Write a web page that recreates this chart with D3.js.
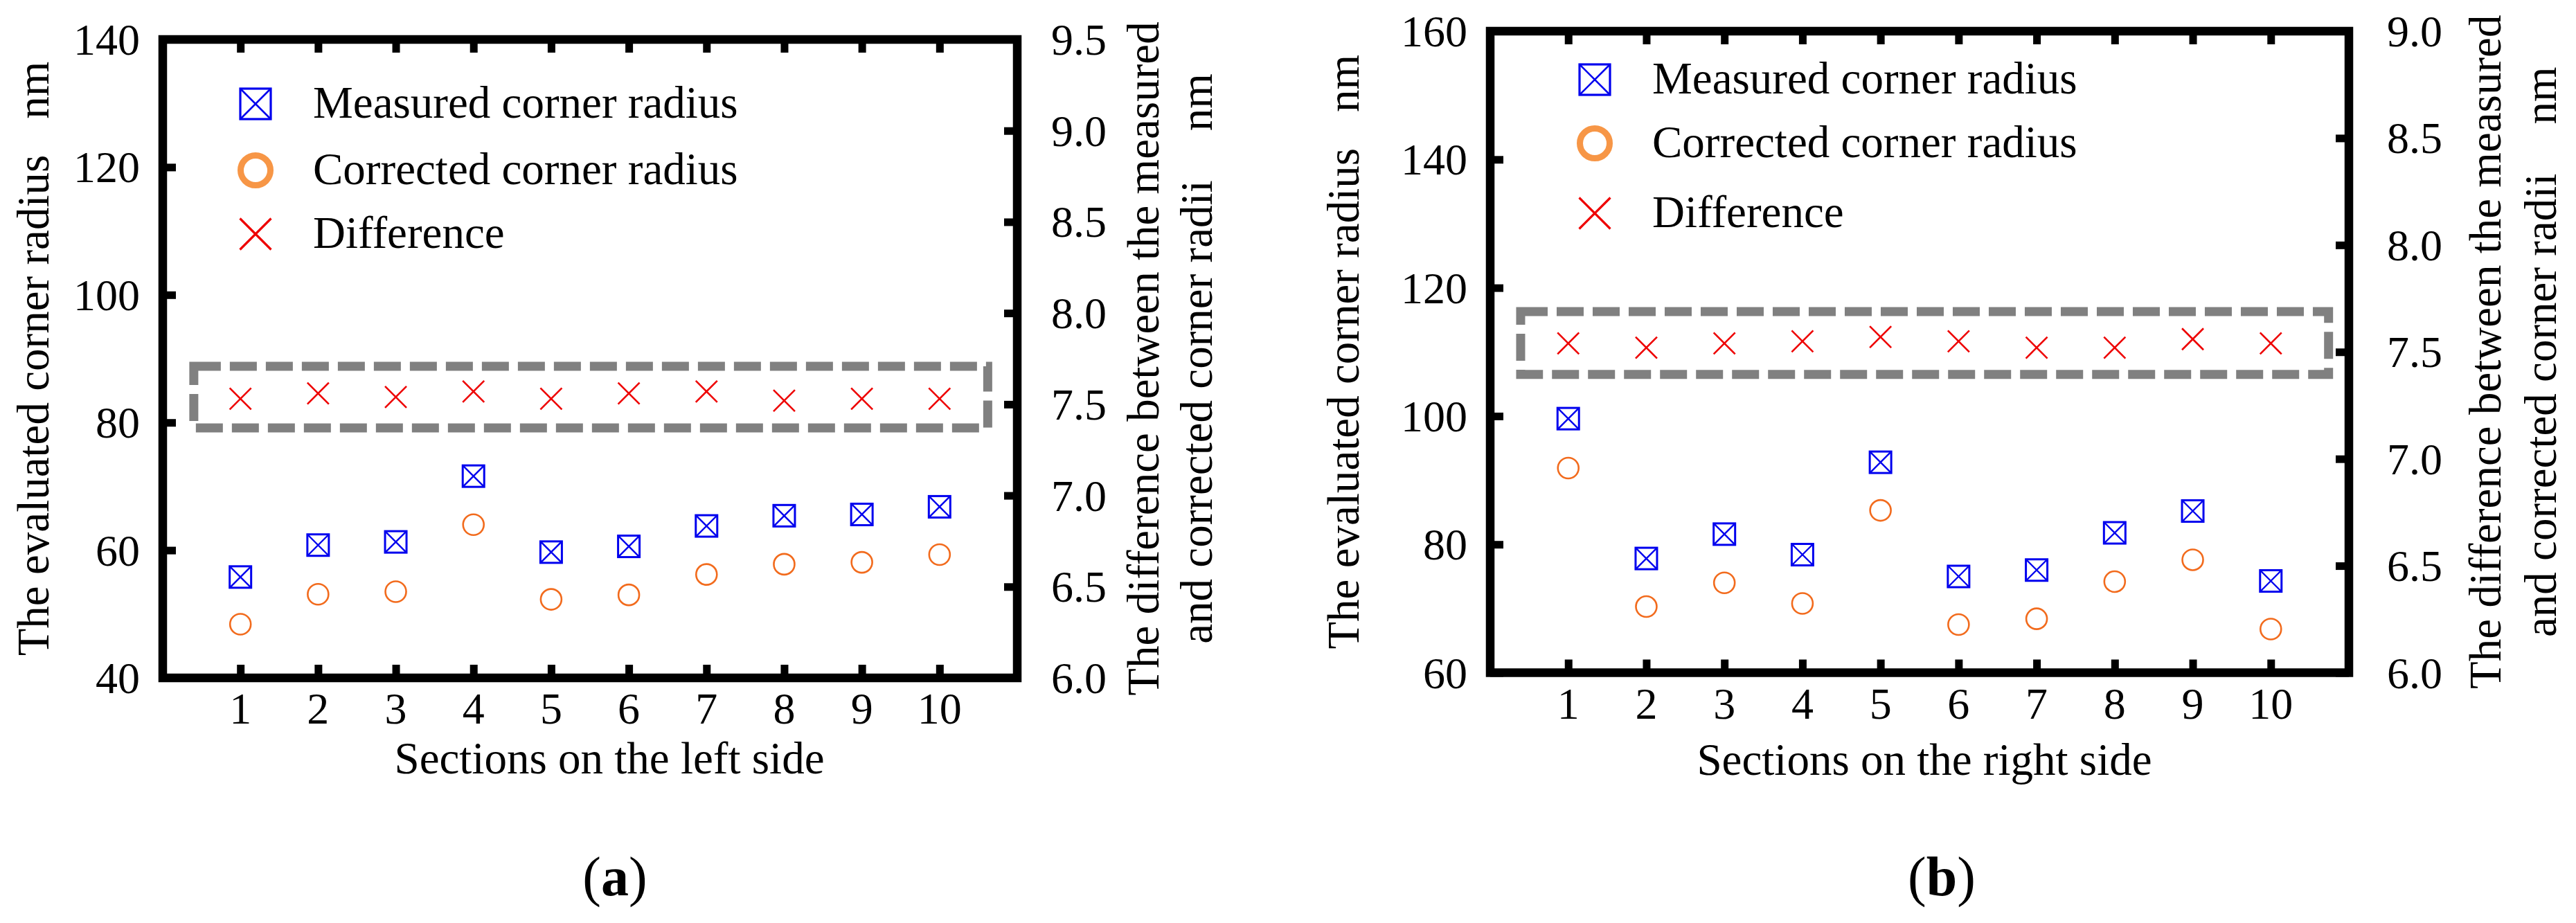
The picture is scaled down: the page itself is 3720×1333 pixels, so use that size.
<!DOCTYPE html>
<html>
<head>
<meta charset="utf-8">
<script src="https://cdn.jsdelivr.net/npm/d3@7"></script>
<style>
  body { margin: 0; background: #fff; }
  svg text { font-family: 'Liberation Serif', 'Times New Roman', serif; fill: #000; }
  .tick-label { font-size: 64px; }
  .axis-title { font-size: 65px; }
  .legend-label { font-size: 65px; }
  .caption { font-size: 80px; }
</style>
</head>
<body>
<svg id="chart"></svg>
<script>
// Values
const sections = [1, 2, 3, 4, 5, 6, 7, 8, 9, 10];

const leftMeasured = [55.8, 60.8, 61.3, 71.6, 59.7, 60.6, 63.8, 65.4, 65.6, 66.8];
const leftCorrected = [48.4, 53.1, 53.5, 64.0, 52.3, 53.0, 56.2, 57.8, 58.1, 59.3];
const leftDifference = [7.53, 7.56, 7.54, 7.57, 7.53, 7.56, 7.57, 7.52, 7.53, 7.53];

const rightMeasured = [99.6, 77.8, 81.6, 78.4, 92.8, 75.0, 76.0, 81.8, 85.2, 74.3];
const rightCorrected = [91.9, 70.3, 74.0, 70.8, 85.3, 67.5, 68.4, 74.2, 77.6, 66.8];
const rightDifference = [7.54, 7.52, 7.54, 7.55, 7.57, 7.55, 7.52, 7.52, 7.56, 7.54];

const leftRadiusTicks = [40, 60, 80, 100, 120, 140];
const rightRadiusTicks = [60, 80, 100, 120, 140, 160];
const leftDiffTicks = [6.0, 6.5, 7.0, 7.5, 8.0, 8.5, 9.0, 9.5];
const rightDiffTicks = [6.0, 6.5, 7.0, 7.5, 8.0, 8.5, 9.0];

const legendLabels = ['Measured corner radius', 'Corrected corner radius', 'Difference'];

const BLUE = '#0000ee';
const ORANGE = '#f26b1d';
const ORANGE_LEGEND = '#f79646';
const RED = '#ee0000';

function drawMeasured(sel, s, sw) {
  sel.append('rect')
    .attr('x', -s / 2).attr('y', -s / 2)
    .attr('width', s).attr('height', s)
    .attr('fill', 'none').attr('stroke', BLUE).attr('stroke-width', sw);
  sel.append('path')
    .attr('d', `M${-s / 2},${-s / 2}L${s / 2},${s / 2}M${s / 2},${-s / 2}L${-s / 2},${s / 2}`)
    .attr('fill', 'none').attr('stroke', BLUE).attr('stroke-width', sw * 0.8);
}

function drawCorrected(sel, r, sw, color) {
  sel.append('circle')
    .attr('r', r)
    .attr('fill', 'none').attr('stroke', color).attr('stroke-width', sw);
}

function drawDifference(sel, s, sw) {
  sel.append('path')
    .attr('d', `M${-s / 2},${-s / 2}L${s / 2},${s / 2}M${s / 2},${-s / 2}L${-s / 2},${s / 2}`)
    .attr('fill', 'none').attr('stroke', RED).attr('stroke-width', sw);
}

class DualAxisScatter {
  constructor(_config, _data) {
    this.config = {
      parentElement: _config.parentElement,
      left: _config.left,
      top: _config.top,
      width: _config.width,
      height: _config.height,
      radiusDomain: _config.radiusDomain,
      radiusTicks: _config.radiusTicks,
      diffDomain: _config.diffDomain,
      diffTicks: _config.diffTicks,
      box: _config.box,
      legend: _config.legend,
      leftTitleX: _config.leftTitleX,
      rightTitleX: _config.rightTitleX,
      rightLabelGap: _config.rightLabelGap,
      xTitle: _config.xTitle,
      xTitleX: _config.xTitleX,
      xTitleY: _config.xTitleY,
      caption: _config.caption,
      captionX: _config.captionX,
      tickLength: 19
    };
    this.data = _data;
    this.initVis();
  }

  initVis() {
    let vis = this;
    const c = vis.config;

    vis.g = d3.select(c.parentElement).append('g')
      .attr('transform', `translate(${c.left},${c.top})`);

    vis.xScale = d3.scaleLinear().domain([0, 11]).range([0, c.width]);
    vis.yRadius = d3.scaleLinear().domain(c.radiusDomain).range([c.height, 0]);
    vis.yDiff = d3.scaleLinear().domain(c.diffDomain).range([c.height, 0]);

    // all ticks point inward, labels are drawn separately
    vis.xAxisBottom = d3.axisBottom(vis.xScale).tickValues(sections).tickSize(-c.tickLength).tickFormat('');
    vis.xAxisTop = d3.axisTop(vis.xScale).tickValues(sections).tickSize(-c.tickLength).tickFormat('');
    vis.yAxisLeft = d3.axisLeft(vis.yRadius).tickValues(c.radiusTicks).tickSize(-c.tickLength).tickFormat('');
    vis.yAxisRight = d3.axisRight(vis.yDiff).tickValues(c.diffTicks).tickSize(-c.tickLength).tickFormat('');

    vis.updateVis();
  }

  updateVis() {
    let vis = this;
    vis.renderVis();
  }

  renderVis() {
    let vis = this;
    const c = vis.config;
    const g = vis.g;

    // dashed box around the difference markers
    const b = c.box;
    g.append('rect')
      .attr('x', vis.xScale(b.x0))
      .attr('y', vis.yRadius(b.y1))
      .attr('width', vis.xScale(b.x1) - vis.xScale(b.x0))
      .attr('height', vis.yRadius(b.y0) - vis.yRadius(b.y1))
      .attr('fill', 'none')
      .attr('stroke', '#808080')
      .attr('stroke-width', 13)
      .attr('stroke-dasharray', '39 13');

    const styleAxis = sel => {
      sel.select('.domain').remove();
      sel.selectAll('.tick line').attr('stroke', '#000').attr('stroke-width', 11);
    };

    g.append('g').attr('transform', `translate(0,${c.height})`).call(vis.xAxisBottom).call(styleAxis);
    g.append('g').call(vis.xAxisTop).call(styleAxis);
    g.append('g').call(vis.yAxisLeft).call(styleAxis);
    g.append('g').attr('transform', `translate(${c.width},0)`).call(vis.yAxisRight).call(styleAxis);

    // frame
    g.append('rect')
      .attr('width', c.width)
      .attr('height', c.height)
      .attr('fill', 'none')
      .attr('stroke', '#000')
      .attr('stroke-width', 12.5);

    // tick labels
    g.append('g').selectAll('text')
      .data(sections)
      .join('text')
      .attr('class', 'tick-label')
      .attr('text-anchor', 'middle')
      .attr('x', d => vis.xScale(d))
      .attr('y', c.height + 66)
      .text(d => d);

    g.append('g').selectAll('text')
      .data(c.radiusTicks)
      .join('text')
      .attr('class', 'tick-label')
      .attr('text-anchor', 'end')
      .attr('x', -33)
      .attr('y', d => vis.yRadius(d) + 22)
      .text(d => d);

    g.append('g').selectAll('text')
      .data(c.diffTicks)
      .join('text')
      .attr('class', 'tick-label')
      .attr('text-anchor', 'start')
      .attr('x', c.width + c.rightLabelGap)
      .attr('y', d => vis.yDiff(d) + 22)
      .text(d => d3.format('.1f')(d));

    // markers
    g.append('g').selectAll('g')
      .data(vis.data)
      .join('g')
      .attr('transform', d => `translate(${vis.xScale(d.section)},${vis.yRadius(d.measured)})`)
      .each(function () { drawMeasured(d3.select(this), 31, 3); });

    g.append('g').selectAll('g')
      .data(vis.data)
      .join('g')
      .attr('transform', d => `translate(${vis.xScale(d.section)},${vis.yRadius(d.corrected)})`)
      .each(function () { drawCorrected(d3.select(this), 15, 2.6, ORANGE); });

    g.append('g').selectAll('g')
      .data(vis.data)
      .join('g')
      .attr('transform', d => `translate(${vis.xScale(d.section)},${vis.yDiff(d.difference)})`)
      .each(function () { drawDifference(d3.select(this), 31, 2.6); });

    // legend
    const lg = c.legend;
    const legendG = g.append('g').attr('transform', `translate(${lg.x},0)`);
    const rows = legendG.selectAll('g')
      .data(legendLabels)
      .join('g')
      .attr('transform', (d, i) => `translate(0,${lg.rows[i]})`);
    rows.each(function (d, i) {
      const row = d3.select(this);
      if (i === 0) drawMeasured(row, 44, 3.2);
      if (i === 1) drawCorrected(row, 21.5, 9, ORANGE_LEGEND);
      if (i === 2) drawDifference(row, 45, 3.2);
    });
    rows.append('text')
      .attr('class', 'legend-label')
      .attr('x', 83)
      .attr('y', 20)
      .text(d => d);

    // axis titles
    const midY = c.height / 2;
    const leftTitle = g.append('text')
      .attr('class', 'axis-title')
      .attr('text-anchor', 'middle')
      .attr('transform', `translate(${c.leftTitleX},${midY}) rotate(-90)`);
    leftTitle.append('tspan').text('The evaluated corner radius');
    leftTitle.append('tspan').attr('dx', 52).text('nm');

    const rightTitle1 = g.append('text')
      .attr('class', 'axis-title')
      .attr('text-anchor', 'middle')
      .attr('transform', `translate(${c.width + c.rightTitleX[0]},${midY}) rotate(-90)`)
      .text('The difference between the measured');

    const rightTitle2 = g.append('text')
      .attr('class', 'axis-title')
      .attr('text-anchor', 'middle')
      .attr('transform', `translate(${c.width + c.rightTitleX[1]},${midY}) rotate(-90)`);
    rightTitle2.append('tspan').text('and corrected corner radii');
    rightTitle2.append('tspan').attr('dx', 71).text('nm');

    g.append('text')
      .attr('class', 'axis-title')
      .attr('text-anchor', 'middle')
      .attr('x', c.xTitleX)
      .attr('y', c.xTitleY)
      .text(c.xTitle);

    const cap = g.append('text')
      .attr('class', 'caption')
      .attr('text-anchor', 'middle')
      .attr('x', c.captionX)
      .attr('y', 1293 - c.top);
    cap.append('tspan').text('(');
    cap.append('tspan').attr('font-weight', 'bold').text(c.caption);
    cap.append('tspan').text(')');
  }
}

const svg = d3.select('#chart').attr('width', 3720).attr('height', 1333);

const buildRows = (m, cr, df) => sections.map((s, i) => ({
  section: s, measured: m[i], corrected: cr[i], difference: df[i]
}));

new DualAxisScatter({
  parentElement: '#chart',
  left: 235, top: 57, width: 1234, height: 922,
  radiusDomain: [40, 140], radiusTicks: leftRadiusTicks,
  diffDomain: [6.0, 9.5], diffTicks: leftDiffTicks,
  box: { x0: 0.40, x1: 10.62, y0: 79.15, y1: 88.8 },
  legend: { x: 134, rows: [93, 189, 281] },
  leftTitleX: -165,
  rightTitleX: [204, 281],
  rightLabelGap: 49,
  xTitle: 'Sections on the left side',
  xTitleX: 645, xTitleY: 1117 - 57,
  caption: 'a', captionX: 653
}, buildRows(leftMeasured, leftCorrected, leftDifference));

new DualAxisScatter({
  parentElement: '#chart',
  left: 2152, top: 45, width: 1240, height: 926.5,
  radiusDomain: [60, 160], radiusTicks: rightRadiusTicks,
  diffDomain: [6.0, 9.0], diffTicks: rightDiffTicks,
  box: { x0: 0.39, x1: 10.74, y0: 106.5, y1: 116.3 },
  legend: { x: 151, rows: [70, 162, 263] },
  leftTitleX: -190,
  rightTitleX: [219, 299],
  rightLabelGap: 55,
  xTitle: 'Sections on the right side',
  xTitleX: 627, xTitleY: 1119 - 45,
  caption: 'b', captionX: 652
}, buildRows(rightMeasured, rightCorrected, rightDifference));
</script>
</body>
</html>
